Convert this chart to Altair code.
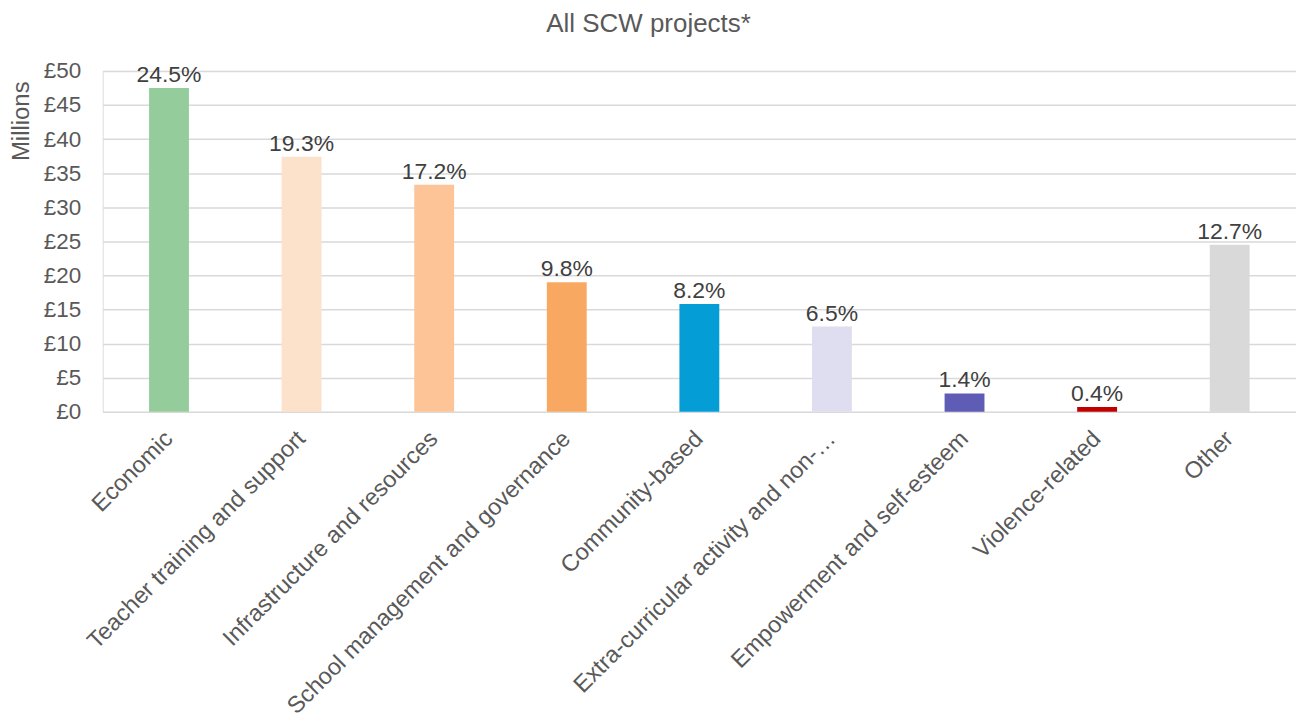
import altair as alt
import pandas as pd

categories = [
    "Economic",
    "Teacher training and support",
    "Infrastructure and resources",
    "School management and governance",
    "Community-based",
    "Extra-curricular activity and non-…",
    "Empowerment and self-esteem",
    "Violence-related",
    "Other",
]
values_millions = [47.5, 37.4, 33.3, 19.0, 15.8, 12.5, 2.7, 0.7, 24.5]
pct_labels = ["24.5%", "19.3%", "17.2%", "9.8%", "8.2%", "6.5%", "1.4%", "0.4%", "12.7%"]
colors = ["#94CC9C", "#FCE1CB", "#FDC497", "#F9A862", "#049DD6",
          "#DFDEF0", "#5E5CB4", "#C00000", "#D9D9D9"]
y_ticks = [0, 5, 10, 15, 20, 25, 30, 35, 40, 45, 50]

df = pd.DataFrame({"cat": categories, "val": values_millions, "pct": pct_labels})

FONT = "Liberation Sans"

x = alt.X(
    "cat:N",
    sort=categories,
    title=None,
    scale=alt.Scale(paddingInner=0.0, paddingOuter=0.0),
    axis=alt.Axis(
        labelAngle=-45,
        labelAlign="right",
        labelBaseline="middle",
        labelFontSize=23.5,
        labelColor="#595959",
        labelFont=FONT,
        labelPadding=23,
        labelLimit=500,
        labelOverlap=False,
        ticks=False,
        domain=False,
        grid=False,
    ),
)

y = alt.Y(
    "val:Q",
    title="Millions",
    scale=alt.Scale(domain=[0, 50], nice=False),
    axis=alt.Axis(
        values=y_ticks,
        labelExpr="'£' + datum.value",
        labelFontSize=22.5,
        labelColor="#595959",
        labelFont=FONT,
        labelPadding=22,
        labelOverlap=False,
        ticks=False,
        domain=False,
        gridColor="#D9D9D9",
        gridWidth=1.5,
        titleFontSize=24,
        titleFont=FONT,
        titleColor="#595959",
        titleFontWeight="normal",
        titleAngle=-90,
        titleAlign="right",
        titleBaseline="alphabetic",
        titleX=-74,
        titleY=10,
    ),
)

bars = alt.Chart(df).mark_bar(size=40).encode(
    x=x,
    y=y,
    color=alt.Color("cat:N", scale=alt.Scale(domain=categories, range=colors), legend=None),
)

labels = alt.Chart(df).mark_text(
    baseline="bottom", dy=-1, fontSize=23, font=FONT, color="#404040"
).encode(
    x=x,
    y=y,
    text="pct:N",
)

chart = (
    alt.layer(bars, labels)
    .properties(
        width=1197,
        height=342,
        title=alt.TitleParams(
            "All SCW projects*",
            fontSize=26,
            font=FONT,
            color="#595959",
            fontWeight="normal",
            anchor="middle",
            dx=-51,
            offset=23,
        ),
        autosize=alt.AutoSizeParams(type="none"),
        padding={"left": 95, "top": 62, "right": 0, "bottom": 313},
    )
    .configure_view(stroke=None)
    .configure(background="white")
)

chart.save("out.html", embed_options={"renderer": "svg", "actions": False})
